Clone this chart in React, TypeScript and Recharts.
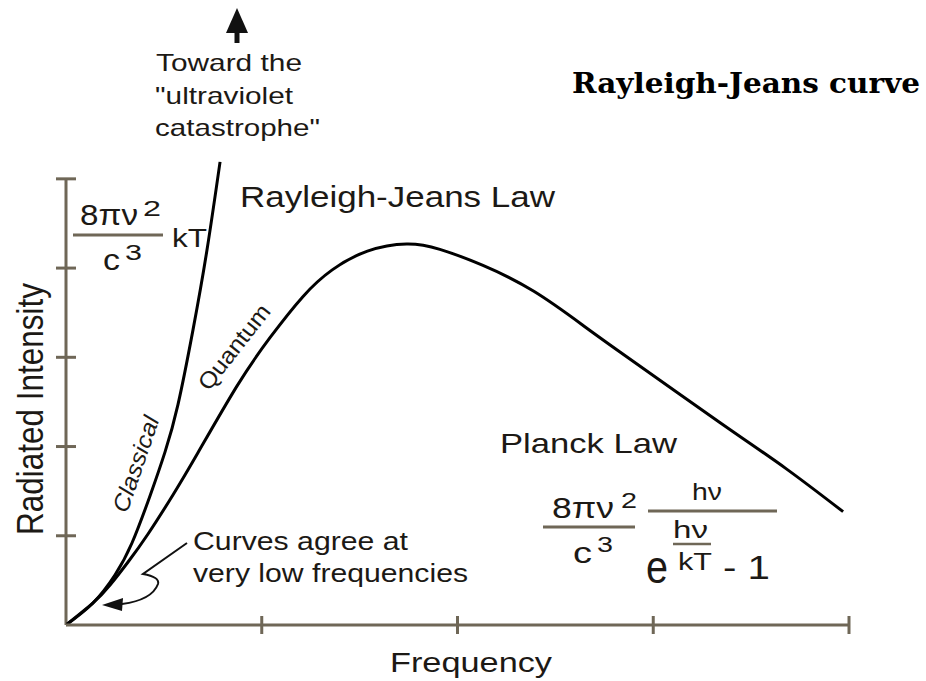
import { LineChart, Line, XAxis, YAxis, ReferenceLine } from "recharts"

// frequency / intensity (arbitrary units)
const planckX = [0, 0.138, 0.225, 0.317, 0.419, 0.547, 0.674, 0.874, 1.042, 1.21, 1.36, 1.54, 1.74, 1.91, 2.13, 2.39, 2.64, 2.83, 3.34, 3.68, 3.97]
const planckY = [0, 0.247, 0.448, 0.706, 1.02, 1.46, 1.93, 2.68, 3.22, 3.68, 3.98, 4.19, 4.27, 4.21, 4.03, 3.74, 3.36, 3.06, 2.27, 1.75, 1.27]
const classicalX = [0, 0.138, 0.25, 0.337, 0.429, 0.506, 0.572, 0.649, 0.72, 0.787]
const classicalY = [0, 0.247, 0.56, 0.919, 1.446, 1.94, 2.47, 3.31, 4.2, 5.19]
const xTicks = [1, 2, 3, 4]
const yTicks = [1, 2, 3, 4, 5]

const AXIS = "#6f6757"
const INK = "#1c1915"
const SANS = "'Liberation Sans', Arial, Helvetica, sans-serif"

const planckData = planckX.map((x, i) => ({ x, y: planckY[i] }))
const classicalData = classicalX.map((x, i) => ({ x, y: classicalY[i] }))

function XTick({ x, y }: any) {
  return <line x1={x} x2={x} y1={y - 9} y2={y + 9} stroke={AXIS} strokeWidth={3} />
}

function YTick({ x, y }: any) {
  return <line x1={x - 10} x2={x + 10} y1={y} y2={y} stroke={AXIS} strokeWidth={3} />
}

interface TxtProps {
  x: number
  y: number
  size: number
  len: number
  rotate?: number
  stretch?: number
  italic?: boolean
  children: string
}

function Txt({ x, y, size, len, rotate, stretch, italic, children }: TxtProps) {
  let transform: string | undefined
  if (rotate) {
    transform = `translate(${x} ${y}) rotate(${rotate}) scale(1 ${stretch ?? 1}) translate(${-x} ${-y})`
  }
  return (
    <text
      x={x}
      y={y}
      fontSize={size}
      fontFamily={SANS}
      fontStyle={italic ? "italic" : "normal"}
      fill={INK}
      textLength={len}
      lengthAdjust="spacingAndGlyphs"
      transform={transform}
    >
      {children}
    </text>
  )
}

function Bar({ x1, x2, y, w = 3 }: { x1: number; x2: number; y: number; w?: number }) {
  return <line x1={x1} x2={x2} y1={y} y2={y} stroke={AXIS} strokeWidth={w} />
}

function Annotations() {
  return (
    <svg
      width={926}
      height={681}
      style={{ position: "absolute", left: 0, top: 0, pointerEvents: "none" }}
    >
      {/* arrow toward the catastrophe */}
      <polygon points="237,8 226,33 248,33" fill="#111" />
      <line x1={237} x2={237} y1={30} y2={43} stroke="#111" strokeWidth={5} />
      <Txt x={156} y={71} size={24} len={146}>Toward the</Txt>
      <Txt x={155} y={104} size={24} len={138}>"ultraviolet</Txt>
      <Txt x={155} y={136} size={24} len={165}>catastrophe"</Txt>

      <text
        x={572}
        y={93}
        fontSize={27}
        fontWeight="bold"
        fontFamily="'DejaVu Serif', 'Liberation Serif', serif"
        fill="#000"
        textLength={348}
        lengthAdjust="spacingAndGlyphs"
      >
        Rayleigh-Jeans curve
      </text>

      <Txt x={240} y={207} size={29} len={315}>Rayleigh-Jeans Law</Txt>

      {/* 8πν²/c³ kT */}
      <Txt x={80} y={225} size={29} len={58}>8πν</Txt>
      <Txt x={143} y={216} size={22} len={18}>2</Txt>
      <Bar x1={73} x2={163} y={235} />
      <Txt x={103} y={270} size={29} len={17}>c</Txt>
      <Txt x={125} y={260} size={22} len={17}>3</Txt>
      <Txt x={172} y={247} size={26} len={35}>kT</Txt>

      <Txt x={127} y={514} size={23} len={100} rotate={-71} italic>Classical</Txt>
      <Txt x={209} y={392} size={23} len={102} rotate={-52}>Quantum</Txt>

      <Txt x={193} y={550} size={25} len={215}>Curves agree at</Txt>
      <Txt x={193} y={582} size={25} len={275}>very low frequencies</Txt>
      <path
        d="M187,543 L143,574 Q160,577 158,584 Q152,600 122,604"
        fill="none"
        stroke="#111"
        strokeWidth={2}
      />
      <polygon points="102,605 123,598 122,611" fill="#111" />

      {/* Planck law */}
      <Txt x={500} y={453} size={28} len={177}>Planck Law</Txt>
      <Txt x={552} y={518} size={29} len={62}>8πν</Txt>
      <Txt x={621} y={508} size={22} len={16}>2</Txt>
      <Bar x1={543} x2={635} y={527} />
      <Txt x={573} y={563} size={29} len={19}>c</Txt>
      <Txt x={597} y={552} size={22} len={16}>3</Txt>
      <Bar x1={648} x2={777} y={511} />
      <Txt x={692} y={500} size={24} len={30}>hν</Txt>
      <Txt x={673} y={538} size={23} len={35}>hν</Txt>
      <Bar x1={673} x2={711} y={544} w={2.5} />
      <Txt x={678} y={570} size={23} len={34}>kT</Txt>
      <Txt x={646} y={583} size={46} len={22}>e</Txt>
      <Txt x={723} y={579} size={34} len={47}>- 1</Txt>

      <Txt x={390} y={672} size={28} len={162}>Frequency</Txt>
      <Txt x={43} y={535} size={29} len={252} rotate={-90} stretch={1.25}>Radiated Intensity</Txt>
    </svg>
  )
}

export default function App() {
  return (
    <div style={{ position: "absolute", left: 0, top: 0, width: 926, height: 681, background: "#fff" }}>
      <LineChart width={926} height={681} margin={{ top: 161, right: 77, left: 65, bottom: 55 }}>
        <XAxis
          type="number"
          dataKey="x"
          domain={[0, 4]}
          ticks={xTicks}
          height={1}
          tickSize={0}
          tickMargin={0}
          tickLine={false}
          axisLine={{ stroke: AXIS, strokeWidth: 3 }}
          tick={<XTick />}
          allowDataOverflow
        />
        <YAxis
          type="number"
          dataKey="y"
          domain={[0, 5.2]}
          ticks={yTicks}
          width={1}
          tickSize={0}
          tickMargin={0}
          tickLine={false}
          axisLine={false}
          tick={<YTick />}
        />
        <ReferenceLine
          segment={[
            { x: 0, y: 0 },
            { x: 0, y: 5 },
          ]}
          stroke={AXIS}
          strokeWidth={3}
        />
        <Line
          data={classicalData}
          dataKey="y"
          type="natural"
          stroke="#000"
          strokeWidth={3}
          dot={false}
          isAnimationActive={false}
        />
        <Line
          data={planckData}
          dataKey="y"
          type="natural"
          stroke="#000"
          strokeWidth={3}
          dot={false}
          isAnimationActive={false}
        />
      </LineChart>
      <Annotations />
    </div>
  )
}
